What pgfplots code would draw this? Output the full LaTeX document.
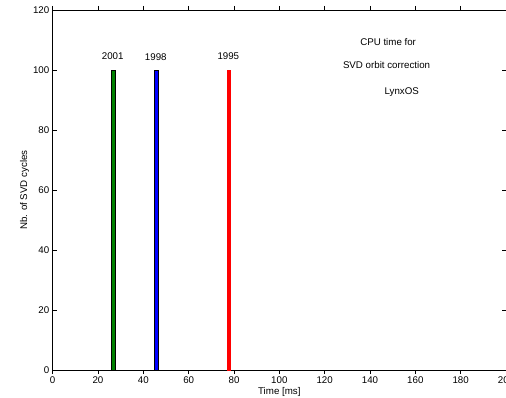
\documentclass[border=0pt]{standalone}
\usepackage{pgfplots}
\pgfplotsset{compat=1.18}
\usepackage{fontspec}
\setmainfont{Liberation Sans}
\definecolor{mgreen}{RGB}{0,128,0}
\begin{document}
\begin{tikzpicture}
\begin{axis}[
  name=ax,
  scale only axis,
  width=340pt, height=270pt,
  xmin=0, xmax=200, ymin=0, ymax=120,
  xtick={0,20,...,200}, ytick={0,20,...,120},
  tick align=inside,
  major tick length=3pt,
  tick style={black, line width=0.5pt},
  axis line style={black, line width=0.7pt},
  font=\fontsize{7.3}{8.8}\selectfont,
  /pgf/number format/assume math mode=true,
  xticklabel style={yshift=1.5pt},
  yticklabel style={xshift=1pt},
  xlabel={Time [ms]}, ylabel={Nb. of SVD cycles},
  xlabel style={yshift=4pt},
  ylabel style={yshift=-4pt},
  ybar, bar width=1.5, bar shift=0pt,
  clip=false,
]
\addplot[fill=mgreen, draw=black, line width=0.4pt] coordinates {(26.8,100)};
\addplot[fill=blue, draw=black, line width=0.4pt] coordinates {(45.7,100)};
\addplot[fill=red, draw=red, line width=0.4pt] coordinates {(77.8,100)};
\node at (axis cs:26.5,104.5) {2001};
\node at (axis cs:45.5,104.2) {1998};
\node at (axis cs:77.5,104.5) {1995};
\node at (axis cs:148,109.3) {CPU time for};
\node at (axis cs:147.3,101.7) {SVD orbit correction};
\node at (axis cs:154,92.7) {LynxOS};
\end{axis}
\pgfresetboundingbox
\useasboundingbox ([xshift=-39.5pt,yshift=-20.25pt]ax.south west) rectangle ([yshift=7.5pt]ax.north east);
\end{tikzpicture}
\end{document}
